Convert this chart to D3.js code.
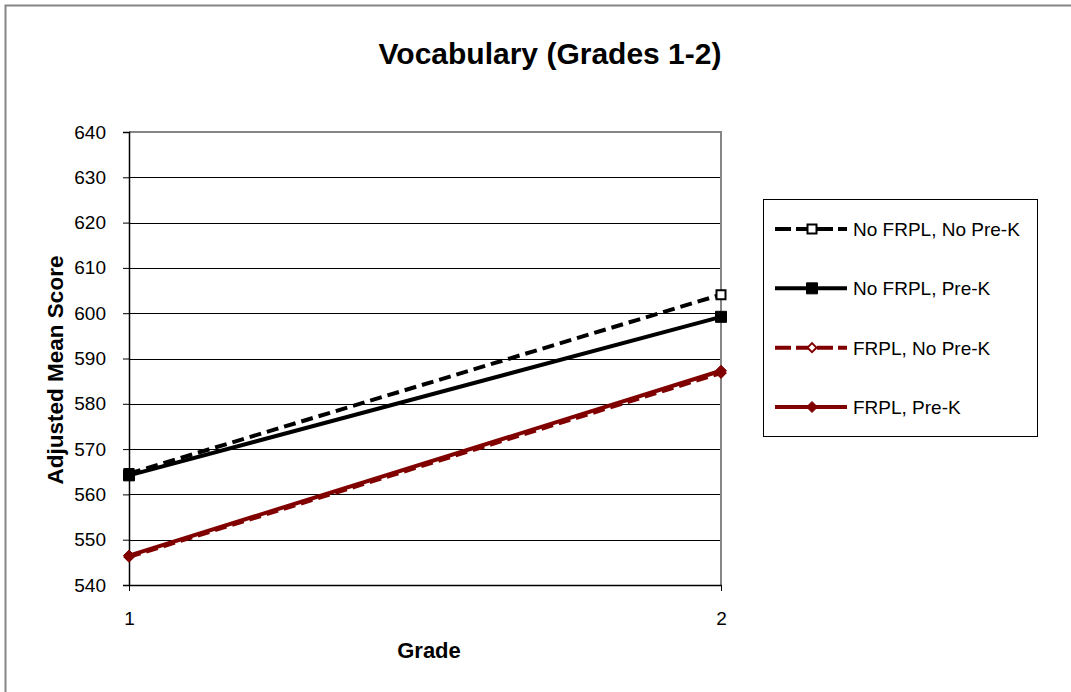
<!DOCTYPE html>
<html>
<head>
<meta charset="utf-8">
<script src="https://cdn.jsdelivr.net/npm/d3@7"></script>
<style>
  body { margin: 0; background: #fff; }
  svg { font-family: "Liberation Sans", Arial, sans-serif; }
</style>
</head>
<body>
<div id="chart"></div>
<script>
/* -----------------    DATA     ------------------ */

const grades = [1, 2];
const yTicks = [540, 550, 560, 570, 580, 590, 600, 610, 620, 630, 640];

const seriesNames = ['No FRPL, No Pre-K', 'No FRPL, Pre-K', 'FRPL, No Pre-K', 'FRPL, Pre-K'];
const noFrplNoPreK = [564.6, 604.1];
const noFrplPreK = [564.2, 599.2];
const frplNoPreK = [546.2, 586.8];
const frplPreK = [546.5, 587.3];

/* -----------------    SETTINGS     ------------------ */

const width = 1071;
const height = 692;
const plot = {left: 129, top: 132, right: 721, bottom: 585};
const colBlack = '#000';
const colRed = '#800000';
const colBorder = '#868686';
const fontFamily = '"Liberation Sans", Arial, sans-serif';

const seriesStyle = [
    {values: noFrplNoPreK, color: colBlack, dash: '12,6', marker: 'square', fill: '#fff'},
    {values: noFrplPreK, color: colBlack, dash: null, marker: 'square', fill: colBlack},
    {values: frplNoPreK, color: colRed, dash: '12,6', marker: 'diamond', fill: '#fff'},
    {values: frplPreK, color: colRed, dash: null, marker: 'diamond', fill: colRed}
];

/* -----------------    CHART     ------------------ */

const svg = d3.select('#chart')
    .append('svg')
    .attr('width', width)
    .attr('height', height);

// chart area border
svg.append('rect')
    .attr('x', 5.5).attr('y', 5.5)
    .attr('width', width + 10).attr('height', height + 10)
    .attr('fill', '#fff')
    .attr('stroke', colBorder)
    .attr('stroke-width', 2);

const x = d3.scaleLinear().domain([1, 2]).range([plot.left, plot.right]);
const y = d3.scaleLinear().domain([540, 640]).range([plot.bottom, plot.top]);

// gridlines
svg.append('g')
    .selectAll('line')
    .data(yTicks.slice(1, -1))
    .enter()
    .append('line')
    .attr('x1', plot.left).attr('x2', plot.right)
    .attr('y1', d => Math.round(y(d)) + 0.5)
    .attr('y2', d => Math.round(y(d)) + 0.5)
    .attr('stroke', colBlack)
    .attr('stroke-width', 1);

// plot area border (top, right)
svg.append('path')
    .attr('d', `M${plot.left},${plot.top}H${plot.right}V${plot.bottom}`)
    .attr('fill', 'none')
    .attr('stroke', colBorder)
    .attr('stroke-width', 2);

// y axis
const yAxis = svg.append('g')
    .attr('transform', `translate(${plot.left},0)`)
    .call(d3.axisLeft(y).tickValues(yTicks).tickSize(6).tickPadding(17));
yAxis.select('.domain').attr('stroke', colBlack).attr('stroke-width', 1.5);
yAxis.selectAll('.tick line').attr('stroke', colBlack);
yAxis.selectAll('text')
    .attr('font-size', 19)
    .attr('fill', colBlack)
    .attr('font-family', fontFamily);

// x axis
const xAxis = svg.append('g')
    .attr('transform', `translate(0,${plot.bottom})`)
    .call(d3.axisBottom(x).tickValues(grades).tickFormat(d3.format('d')).tickSize(6).tickSizeOuter(0).tickPadding(21));
xAxis.select('.domain').attr('stroke', colBlack).attr('stroke-width', 1.5);
xAxis.selectAll('.tick line').attr('stroke', colBlack);
xAxis.selectAll('text')
    .attr('font-size', 19)
    .attr('fill', colBlack)
    .attr('font-family', fontFamily);

// series lines
const line = d3.line()
    .x((d, i) => x(grades[i]))
    .y(d => y(d));

const markerPath = (type, size) => {
    const h = size / 2;
    if (type === 'square') return `M${-h},${-h}H${h}V${h}H${-h}Z`;
    return `M0,${-h}L${h},0L0,${h}L${-h},0Z`;
};

seriesStyle.forEach(s => {
    svg.append('path')
        .datum(s.values)
        .attr('d', line)
        .attr('fill', 'none')
        .attr('stroke', s.color)
        .attr('stroke-width', 4)
        .attr('stroke-dasharray', s.dash);

    svg.append('g')
        .selectAll('path')
        .data(s.values)
        .enter()
        .append('path')
        .attr('transform', (d, i) => `translate(${x(grades[i])},${y(d)})`)
        .attr('d', markerPath(s.marker, s.fill === '#fff' ? 9 : 11))
        .attr('fill', s.fill)
        .attr('stroke', s.color)
        .attr('stroke-width', s.fill === '#fff' ? 2 : 1);
});

// title
svg.append('text')
    .attr('x', 550).attr('y', 64)
    .attr('text-anchor', 'middle')
    .attr('font-size', 30)
    .attr('font-weight', 'bold')
    .text('Vocabulary (Grades 1-2)');

// axis titles
svg.append('text')
    .attr('x', 429).attr('y', 658)
    .attr('text-anchor', 'middle')
    .attr('font-size', 22)
    .attr('font-weight', 'bold')
    .text('Grade');

svg.append('text')
    .attr('transform', 'translate(63,370) rotate(-90)')
    .attr('text-anchor', 'middle')
    .attr('font-size', 22.5)
    .attr('font-weight', 'bold')
    .text('Adjusted Mean Score');

// legend
const legend = svg.append('g');
legend.append('rect')
    .attr('x', 763.5).attr('y', 199.5)
    .attr('width', 274).attr('height', 237)
    .attr('fill', '#fff')
    .attr('stroke', colBlack)
    .attr('stroke-width', 1);

const legendY = d3.scalePoint().domain(seriesNames).range([229, 407]);

seriesStyle.forEach((s, i) => {
    const ly = legendY(seriesNames[i]);
    legend.append('line')
        .attr('x1', 775).attr('x2', 847)
        .attr('y1', ly).attr('y2', ly)
        .attr('stroke', s.color)
        .attr('stroke-width', 4)
        .attr('stroke-dasharray', s.dash ? '16,5' : null);
    legend.append('path')
        .attr('transform', `translate(812,${ly})`)
        .attr('d', markerPath(s.marker, s.fill === '#fff' ? 9 : 11))
        .attr('fill', s.fill)
        .attr('stroke', s.color)
        .attr('stroke-width', s.fill === '#fff' ? 2 : 1);
    legend.append('text')
        .attr('x', 853).attr('y', ly + 7)
        .attr('font-size', 19)
        .text(seriesNames[i]);
});
</script>
</body>
</html>
